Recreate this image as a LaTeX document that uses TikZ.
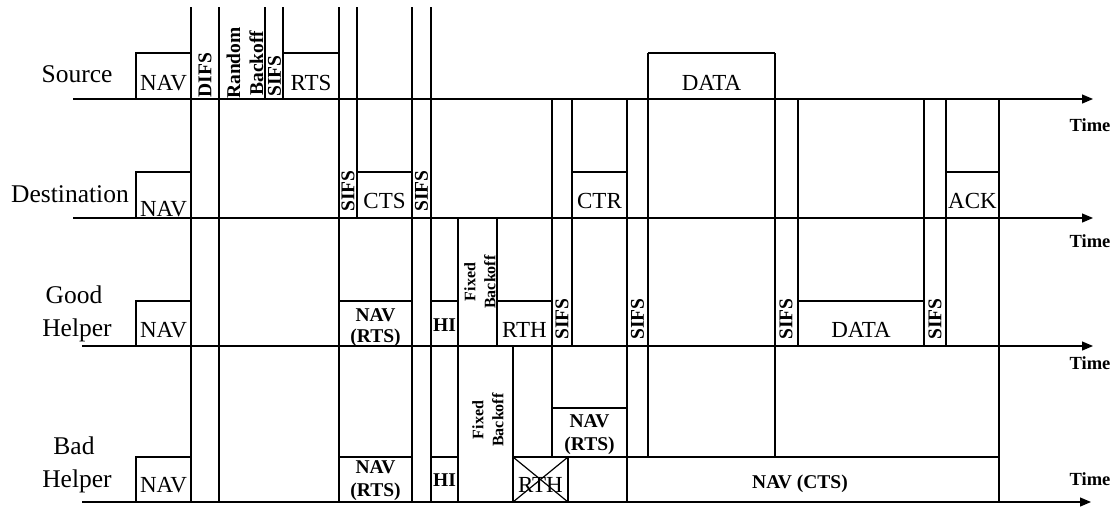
\documentclass[tikz,border=0pt]{standalone}
\usepackage{fontspec}
\setmainfont{Liberation Serif}
\usetikzlibrary{arrows.meta}
\begin{document}
\begin{tikzpicture}[x=1pt,y=-1pt, line width=1.2pt,
  axisline/.style={-{Triangle[length=11pt,width=9pt]}},
  lbl/.style={font=\fontsize{23}{25}\selectfont, inner sep=0pt, anchor=base},
  rowlbl/.style={font=\fontsize{25.5}{30}\selectfont, inner sep=0pt, anchor=base},
  bl/.style={font=\fontsize{19.5}{21}\selectfont\bfseries, inner sep=0pt, anchor=base},
  vb/.style={font=\fontsize{19.5}{23}\selectfont\bfseries, inner sep=0pt, rotate=90, align=center},
  fb/.style={font=\fontsize{16}{20}\selectfont\bfseries, inner sep=0pt, rotate=90, align=center},
  timel/.style={font=\fontsize{18.5}{20}\selectfont\bfseries, inner sep=0pt, anchor=base east}]
\useasboundingbox (0,0) rectangle (1116,507);

% axes
\coordinate (s0) at (73,99);   \coordinate (s1) at (1093,99);
\coordinate (d0) at (73,218);  \coordinate (d1) at (1093,218);
\coordinate (g0) at (82,346);  \coordinate (g1) at (1093,346);
\coordinate (b0) at (82,502);  \coordinate (b1) at (1091,502);
\draw[axisline] (s0) -- (s1);
\draw[axisline] (d0) -- (d1);
\draw[axisline] (g0) -- (g1);
\draw[axisline] (b0) -- (b1);

% long vertical lines
\draw (191,7) -- (191,502);
\draw (219,7) -- (219,502);
\draw (265,7) -- (265,99);
\draw (283,7) -- (283,99);
\draw (339,7) -- (339,502);
\draw (357,7) -- (357,218);
\draw (412,7) -- (412,502);
\draw (431,7) -- (431,502);
\draw (458,218) -- (458,502);
\draw (497,218) -- (497,346);
\draw (513,346) -- (513,502);
\draw (552,99) -- (552,457);
\draw (572,99) -- (572,346);
\draw (568,457) -- (568,502);
\draw (627,99) -- (627,502);
\draw (648,53) -- (648,457);
\draw (775,53) -- (775,457);
\draw (798,99) -- (798,346);
\draw (924,99) -- (924,346);
\draw (946,99) -- (946,346);
\draw (999,99) -- (999,502);

% source row boxes
\draw (136,99) -- (136,53) -- (191,53);
\draw (283,53) -- (339,53);
\draw (648,53) -- (775,53);
% destination row boxes
\draw (136,218) -- (136,172) -- (191,172);
\draw (357,172) -- (412,172);
\draw (572,172) -- (627,172);
\draw (946,172) -- (999,172);
% good helper row boxes
\draw (136,346) -- (136,301) -- (191,301);
\draw (339,301) -- (412,301);
\draw (431,301) -- (458,301);
\draw (497,301) -- (552,301);
\draw (798,301) -- (924,301);
% bad helper row boxes
\draw (136,502) -- (136,457) -- (191,457);
\draw (339,457) -- (412,457);
\draw (431,457) -- (458,457);
\draw (513,457) -- (999,457);
\draw (552,408) -- (627,408);
\draw (513,457) -- (568,502);
\draw (513,502) -- (568,457);

% row labels
\node[rowlbl] (src) at (77,82) {Source};
\node[rowlbl] (dst) at (70,202) {Destination};
\node[rowlbl] (gh1) at (74,303) {Good};
\node[rowlbl] (gh2) at (77,336) {Helper};
\node[rowlbl] (bh1) at (74,454) {Bad};
\node[rowlbl] (bh2) at (77,487) {Helper};

% time labels
\node[timel] (t1) at (1111,131) {Time};
\node[timel] (t2) at (1111,247) {Time};
\node[timel] (t3) at (1111,369) {Time};
\node[timel] (t4) at (1111,485) {Time};

% source row labels
\node[lbl] (snav) at (163.5,90) {NAV};
\node[vb] (difs) at (205,75) {DIFS};
\node[vb] (rb) at (245,63) {Random\\Backoff};
\node[vb] (ssifs) at (274.5,76) {SIFS};
\node[lbl] (rts) at (311,90) {RTS};
\node[lbl] (sdata) at (711.5,90) {DATA};

% destination row labels
\node[lbl] (dnav) at (163.5,216) {NAV};
\node[vb] (dsifs1) at (348,191) {SIFS};
\node[lbl] (cts) at (384.5,208) {CTS};
\node[vb] (dsifs2) at (421.5,191) {SIFS};
\node[lbl] (ctr) at (599.5,208) {CTR};
\node[lbl] (ack) at (972.5,208) {ACK};

% good helper row labels
\node[lbl] (gnav) at (163.5,337) {NAV};
\node[bl] (gnr1) at (375.5,321) {NAV};
\node[bl] (gnr2) at (375.5,342) {(RTS)};
\node[bl] (ghi) at (444.5,331) {HI};
\node[fb] (gfb) at (480,282) {Fixed\\Backoff};
\node[lbl] (grth) at (524.5,337) {RTH};
\node[vb] (gsifs1) at (562,319) {SIFS};
\node[vb] (gsifs2) at (637.5,319) {SIFS};
\node[vb] (gsifs3) at (786,319) {SIFS};
\node[lbl] (gdata) at (861,337) {DATA};
\node[vb] (gsifs4) at (935,319) {SIFS};

% bad helper row labels
\node[lbl] (bnav) at (163.5,492) {NAV};
\node[bl] (bnr1) at (375.5,473) {NAV};
\node[bl] (bnr2) at (375.5,496) {(RTS)};
\node[bl] (bhi) at (444.5,486) {HI};
\node[fb] (bfb) at (488,420) {Fixed\\Backoff};
\node[lbl] (brth) at (540.5,492) {RTH};
\node[bl] (bnr3) at (589.5,427) {NAV};
\node[bl] (bnr4) at (589.5,450) {(RTS)};
\node[bl] (ncts) at (800,488) {NAV (CTS)};
\end{tikzpicture}
\end{document}
